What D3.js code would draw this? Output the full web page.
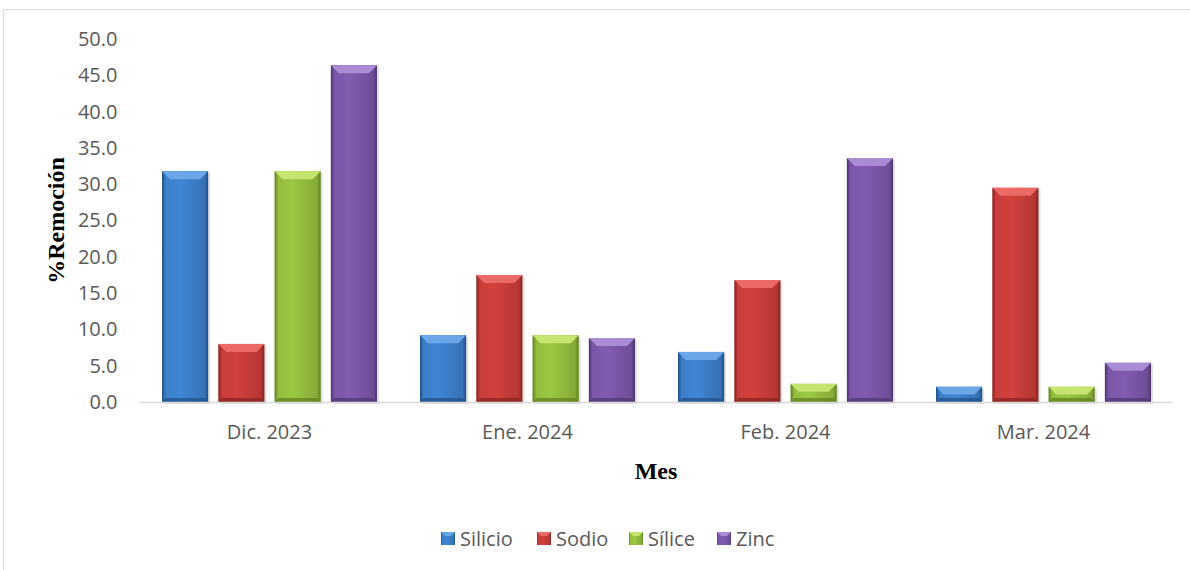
<!DOCTYPE html>
<html>
<head>
<meta charset="utf-8">
<script src="https://cdn.jsdelivr.net/npm/d3@7"></script>
<style>
  body { margin: 0; background: #fff; }
  #vis { width: 1190px; height: 570px; }
</style>
</head>
<body>
<div id="vis"></div>
<script>
const months = ["Dic. 2023", "Ene. 2024", "Feb. 2024", "Mar. 2024"];
const seriesNames = ["Silicio", "Sodio", "Sílice", "Zinc"];
const silicio = [31.8, 9.2, 6.9, 2.1];
const sodio = [8.0, 17.5, 16.8, 29.5];
const silice = [31.8, 9.2, 2.5, 2.1];
const zinc = [46.4, 8.8, 33.6, 5.4];
const yTicks = [0, 5, 10, 15, 20, 25, 30, 35, 40, 45, 50];

const seriesValues = [silicio, sodio, silice, zinc];
const colors = {
    Silicio: { base: "#3c7fc9", light: "#6aa6e8", dark: "#1f4f86" },
    Sodio: { base: "#c83d3a", light: "#ec6a66", dark: "#85221f" },
    "Sílice": { base: "#94bd3d", light: "#c4e670", dark: "#5e7d1e" },
    Zinc: { base: "#7a57a8", light: "#a98bd6", dark: "#4d3470" }
};

const W = 1190, H = 570;
const plot = { left: 140.5, right: 1172.5, top: 39, bottom: 402 };
const sansFont = "'Open Sans', sans-serif";
const serifFont = "'Liberation Serif', serif";

const svg = d3.select("#vis").append("svg")
    .attr("width", W)
    .attr("height", H);

// chart area border
svg.append("rect")
    .attr("x", 3.5).attr("y", 9.5)
    .attr("width", W + 10).attr("height", H + 10)
    .attr("fill", "none")
    .attr("stroke", "#d9d9d9");

const defs = svg.append("defs");
seriesNames.forEach((s, i) => {
    const c = colors[s];
    const g = defs.append("linearGradient")
        .attr("id", "grad" + i)
        .attr("x1", "0").attr("x2", "1").attr("y1", "0").attr("y2", "0");
    g.append("stop").attr("offset", "0%").attr("stop-color", c.dark);
    g.append("stop").attr("offset", "8%").attr("stop-color", c.base);
    g.append("stop").attr("offset", "40%").attr("stop-color", d3.color(c.base).brighter(0.15));
    g.append("stop").attr("offset", "92%").attr("stop-color", d3.color(c.base).darker(0.3));
    g.append("stop").attr("offset", "100%").attr("stop-color", c.dark);
});

const x0 = d3.scaleBand()
    .domain(months)
    .range([plot.left, plot.right])
    .paddingInner(0.1667)
    .paddingOuter(0.0833);

const x1 = d3.scaleBand()
    .domain(seriesNames)
    .range([0, x0.bandwidth()])
    .paddingInner(0.18)
    .paddingOuter(0);

const y = d3.scaleLinear()
    .domain([0, 50])
    .range([plot.bottom, plot.top]);

// y axis labels
svg.append("g")
    .attr("transform", `translate(${plot.left - 23},0)`)
    .call(d3.axisLeft(y).tickValues(yTicks).tickFormat(d3.format(".1f")).tickSize(0).tickPadding(0))
    .call(g => g.select(".domain").remove())
    .selectAll("text")
    .attr("fill", "#595959")
    .style("font-family", sansFont)
    .style("font-size", "20px");

// bars
const data = [];
months.forEach((m, mi) => {
    seriesNames.forEach((s, si) => {
        data.push({ month: m, series: s, si: si, value: seriesValues[si][mi] });
    });
});

const bars = svg.append("g").selectAll("g.bar")
    .data(data)
    .join("g")
    .attr("class", "bar");

bars.append("rect")
    .attr("x", d => x0(d.month) + x1(d.series) + 2)
    .attr("y", d => y(d.value) + 2)
    .attr("width", x1.bandwidth())
    .attr("height", d => y(0) - y(d.value))
    .attr("fill", "#000")
    .attr("opacity", 0.12);

bars.append("rect")
    .attr("x", d => x0(d.month) + x1(d.series))
    .attr("y", d => y(d.value))
    .attr("width", x1.bandwidth())
    .attr("height", d => y(0) - y(d.value))
    .attr("fill", d => `url(#grad${d.si})`);

// top bevel
bars.append("path")
    .attr("d", d => {
        const bx = x0(d.month) + x1(d.series);
        const by = y(d.value);
        const bw = x1.bandwidth();
        const bh = y(0) - y(d.value);
        const b = Math.min(8, bh / 2);
        return `M${bx},${by}L${bx + bw},${by}L${bx + bw - b},${by + b}L${bx + b},${by + b}Z`;
    })
    .attr("fill", d => colors[d.series].light);

// bottom bevel
bars.append("path")
    .attr("d", d => {
        const bx = x0(d.month) + x1(d.series);
        const by = y(0);
        const bw = x1.bandwidth();
        const bh = y(0) - y(d.value);
        const b = Math.min(4, bh / 2);
        return `M${bx},${by}L${bx + bw},${by}L${bx + bw - b},${by - b}L${bx + b},${by - b}Z`;
    })
    .attr("fill", d => colors[d.series].dark)
    .attr("opacity", 0.7);

// x axis line
svg.append("line")
    .attr("x1", plot.left).attr("x2", plot.right)
    .attr("y1", y(0) + 0.5).attr("y2", y(0) + 0.5)
    .attr("stroke", "#d9d9d9")
    .attr("stroke-width", 1.5);

// category labels
svg.append("g")
    .attr("transform", `translate(0,${y(0)})`)
    .call(d3.axisBottom(x0).tickSize(0).tickPadding(23))
    .call(g => g.select(".domain").remove())
    .selectAll("text")
    .attr("fill", "#595959")
    .style("font-family", sansFont)
    .style("font-size", "20px");

// axis titles
svg.append("text")
    .attr("x", 656)
    .attr("y", 479)
    .attr("text-anchor", "middle")
    .style("font-family", serifFont)
    .style("font-weight", "bold")
    .style("font-size", "24px")
    .attr("fill", "#000")
    .text("Mes");

svg.append("text")
    .attr("transform", `translate(64,${(plot.top + plot.bottom) / 2}) rotate(-90)`)
    .attr("text-anchor", "middle")
    .style("font-family", serifFont)
    .style("font-weight", "bold")
    .style("font-size", "24px")
    .attr("fill", "#000")
    .text("%Remoción");

// legend
const legendX = [441, 537, 629, 717];
const legend = svg.append("g").selectAll("g")
    .data(seriesNames)
    .join("g")
    .attr("transform", (d, i) => `translate(${legendX[i]},532)`);

legend.append("rect")
    .attr("width", 14).attr("height", 13)
    .attr("fill", (d, i) => `url(#grad${i})`);
legend.append("path")
    .attr("d", "M0,0L14,0L10,4L4,4Z")
    .attr("fill", d => colors[d].light);
legend.append("text")
    .attr("x", 19)
    .attr("y", 14)
    .attr("fill", "#595959")
    .style("font-family", sansFont)
    .style("font-size", "20px")
    .text(d => d);
</script>
</body>
</html>
